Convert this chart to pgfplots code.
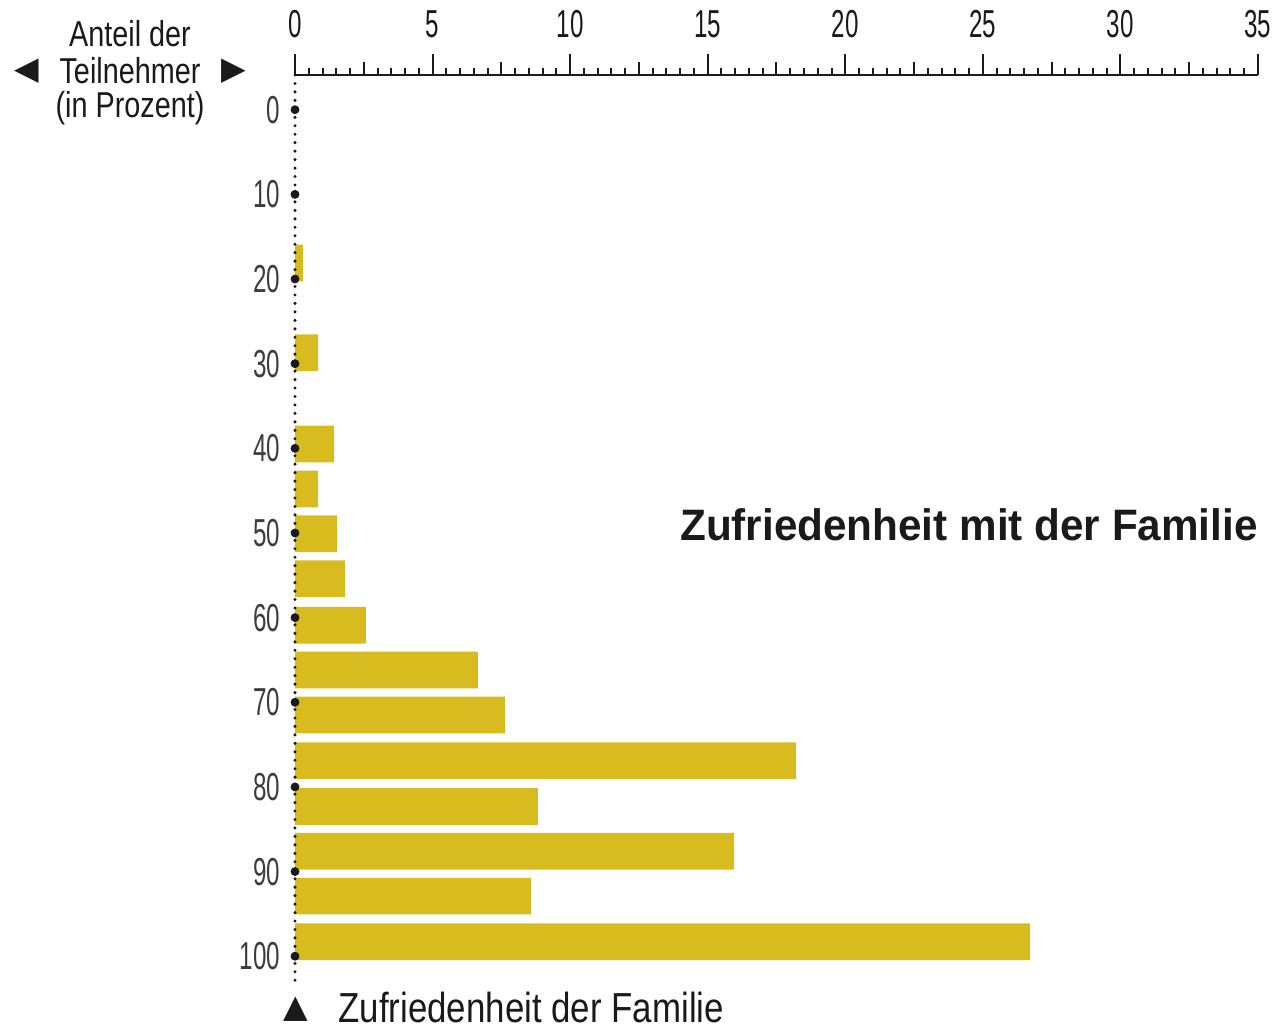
\documentclass[border=0pt]{standalone}
\usepackage{pgfplots}
\pgfplotsset{compat=1.18}
\usepackage{fontspec}
\setmainfont{Liberation Sans}
\newfontfamily\tickfont{Liberation Sans}[FakeStretch=0.62]
\newfontfamily\labfont{Liberation Sans}[FakeStretch=0.8]
\newfontfamily\botfont{Liberation Sans}[FakeStretch=0.83]
\newfontfamily\titlefont{Liberation Sans}[FakeStretch=0.96]
\newfontfamily\symfont{DejaVu Sans}
\definecolor{barc}{HTML}{D8BB1F}
\definecolor{ink}{HTML}{1A1A1A}
\definecolor{ylab}{HTML}{3C3C3C}
\begin{document}
\begin{tikzpicture}
\useasboundingbox (-147.5pt,37.5pt) rectangle (490.5pt,-476.5pt);
\begin{axis}[
  at={(0pt,0pt)}, anchor=north west,
  scale only axis, width=481.5pt, height=455pt,
  xmin=0, xmax=35, ymin=-4.1, ymax=103.4, y dir=reverse,
  axis x line*=top, axis y line*=left,
  axis on top, clip=false,
  x axis line style={line width=1.3pt, draw=ink, -},
  y axis line style={draw=ink, line width=1.7pt, line cap=round, dash pattern=on 0pt off 4.23pt, -},
  xtick={0,5,...,35}, minor xtick={0,0.5,...,35},
  extra x ticks={2.5,7.5,...,32.5}, extra x tick labels={},
  extra x tick style={major tick length=6.5pt},
  tick align=outside,
  major tick length=10.5pt, minor tick length=3.5pt,
  x tick style={draw=ink, line width=1pt},
  ytick={0,10,...,100}, y tick style={draw=none},
  /pgf/number format/assume math mode=true,
  xticklabel style={font=\tickfont\fontsize{19.5}{20}\selectfont, text=ink, yshift=4.5pt},
  yticklabel style={font=\tickfont\fontsize{19.5}{20}\selectfont, text=ylab, xshift=6.5pt},
]
\addplot[xbar, bar width=4.34, bar shift=0pt, fill=barc, draw=none] coordinates {
 (0.29,18.1) (0.84,28.7) (1.42,39.5) (0.84,44.8) (1.53,50.1) (1.82,55.4) (2.58,60.9)
 (6.65,66.2) (7.63,71.5) (18.21,76.9) (8.83,82.3) (15.96,87.6) (8.58,92.9) (26.72,98.3)};
\addplot[only marks, mark=*, mark size=2pt, draw=ink, fill=ink] coordinates {
 (0,0) (0,10) (0,20) (0,30) (0,40) (0,50) (0,60) (0,70) (0,80) (0,90) (0,100)};
\end{axis}
\begin{scope}[every node/.style={inner sep=0pt, text=ink}]
\node at (-82.5pt,20.5pt) {\labfont\fontsize{18}{20}\selectfont Anteil der};
\node at (-82.5pt,2pt) {\labfont\fontsize{18}{20}\selectfont Teilnehmer};
\node at (-82.5pt,-16.5pt) {\labfont\fontsize{18}{20}\selectfont (in Prozent)};
\node at (-134pt,2pt) {\symfont\fontsize{16}{18}\selectfont ◀};
\node at (-30.5pt,2pt) {\symfont\fontsize{16}{18}\selectfont ▶};
\node[anchor=east] at (481.5pt,-225pt) {\titlefont\bfseries\fontsize{22}{24}\selectfont Zufriedenheit mit der Familie};
\node at (0.5pt,-467pt) {\symfont\fontsize{16}{18}\selectfont ▲};
\node[anchor=west] at (21.5pt,-466pt) {\botfont\fontsize{21}{23}\selectfont Zufriedenheit der Familie};
\end{scope}
\end{tikzpicture}
\end{document}
